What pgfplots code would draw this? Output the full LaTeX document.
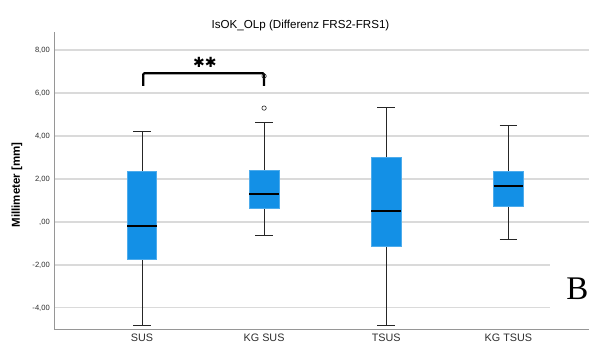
\documentclass[border=0pt]{standalone}
\usepackage{pgfplots}
\pgfplotsset{compat=1.18}
\usepgfplotslibrary{statistics}
\usepackage{fontspec}
\setmainfont{Liberation Sans}
\newfontfamily\serifB{Liberation Serif}
\newfontfamily\djv{DejaVu Sans}
\definecolor{boxblue}{RGB}{19,144,230}
\definecolor{gridgray}{RGB}{218,218,218}
\definecolor{axgray}{RGB}{150,150,150}
\definecolor{txtgray}{RGB}{45,45,45}
\begin{document}
\begin{tikzpicture}[x=1pt,y=1pt]
\useasboundingbox (-54,-16) rectangle (535,329);
\begin{axis}[
  at={(0,0)}, anchor=south west,
  scale only axis, width=535pt, height=297pt,
  xmin=-0.72, xmax=3.66, ymin=-4.98, ymax=8.84,
  axis lines=left,
  axis line style={draw=axgray, line width=0.8pt, -},
  major tick length=0pt,
  xtick={0,1,2,3},
  xticklabels={SUS, KG SUS, TSUS, KG TSUS},
  xticklabel style={font=\fontsize{10.8}{12}\selectfont, text=txtgray, inner sep=0pt, yshift=-5pt},
  ytick={-4,-2,0,2,4,6,8},
  yticklabels={{-4,00},{-2,00},{,00},{2,00},{4,00},{6,00},{8,00}},
  yticklabel style={font=\fontsize{7.6}{9}\selectfont, text=txtgray, inner sep=0pt, xshift=-4pt},
  ymajorgrids,
  grid style={draw=gridgray, line width=1.1pt},
  clip=false,
  boxplot/draw direction=y,
  boxplot/every box/.style={draw=boxblue!75!white, fill=boxblue, line width=0.6pt},
  boxplot/every median/.style={draw=black, line width=1.8pt},
  boxplot/every whisker/.style={draw=black!85, line width=0.8pt},
]
\addplot+[mark=none, boxplot prepared={lower whisker=-4.79, lower quartile=-1.72, median=-0.19, upper quartile=2.34, upper whisker=4.20, draw position=0, box extend=0.243, whisker extend=0.145}] coordinates {};
\addplot+[mark=o, mark size=2.2pt, mark options={draw=black!85, fill=white, line width=0.6pt}, boxplot prepared={lower whisker=-0.64, lower quartile=0.62, median=1.30, upper quartile=2.39, upper whisker=4.64, draw position=1, box extend=0.243, whisker extend=0.145}] table[row sep=\\, y index=0] {data\\ 5.30\\ 6.79\\};
\addplot+[mark=none, boxplot prepared={lower whisker=-4.79, lower quartile=-1.13, median=0.51, upper quartile=3.01, upper whisker=5.32, draw position=2, box extend=0.243, whisker extend=0.145}] coordinates {};
\addplot+[mark=none, boxplot prepared={lower whisker=-0.82, lower quartile=0.73, median=1.69, upper quartile=2.34, upper whisker=4.50, draw position=3, box extend=0.243, whisker extend=0.145}] coordinates {};
\draw[line width=2.2pt, rounded corners=1.2pt] (axis cs:0.01,6.33) |- (axis cs:1.0,6.92) -- (axis cs:1.0,6.33);
\node[font=\djv\bfseries\fontsize{14}{15}\selectfont, inner sep=0pt] at (axis cs:0.516,7.42) {✱✱};
\end{axis}
\fill[white] (496,4) rectangle (535,89);
\node[font=\serifB\fontsize{33}{36}\selectfont, anchor=base east, inner sep=0pt] at (534.5,29) {B};
\node[font=\fontsize{11.6}{13}\selectfont, anchor=base, inner sep=0pt] at (246.5,300.8) {IsOK\_OLp (Differenz FRS2-FRS1)};
\node[font=\bfseries\fontsize{11.5}{13}\selectfont, rotate=90, inner sep=0pt] at (-37,144) {Millimeter [mm]};
\end{tikzpicture}
\end{document}
